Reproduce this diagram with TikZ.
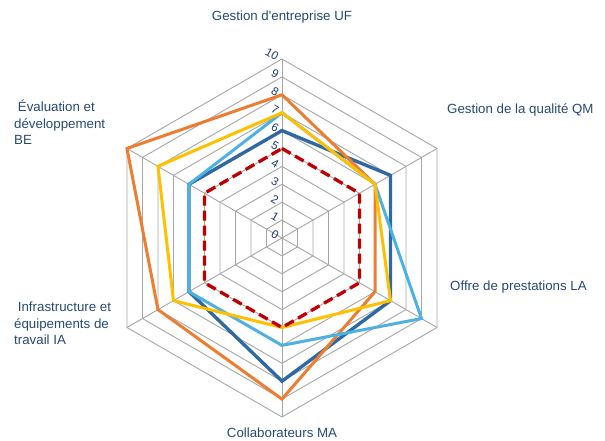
\documentclass[tikz,border=0pt]{standalone}
\usepackage{fontspec}
\setmainfont{Liberation Sans}
\definecolor{gridc}{HTML}{A6A6A6}
\definecolor{txtc}{HTML}{264A73}
\definecolor{tickc}{HTML}{1F3864}
\definecolor{sdblue}{HTML}{2E69A3}
\definecolor{sorange}{HTML}{ED7D31}
\definecolor{slblue}{HTML}{4DB1E2}
\definecolor{syellow}{HTML}{FFC000}
\definecolor{sred}{HTML}{C00000}
\tikzset{
  gridline/.style={draw=gridc, line width=0.9pt},
  series/.style={line width=3pt, line join=miter},
  axislabel/.style={text=txtc, font=\fontsize{13.3}{16.5}\selectfont, inner sep=0pt},
  ticklabel/.style={text=tickc, font=\fontsize{11.5}{11.5}\selectfont, inner sep=0pt, rotate=-30}
}
\newcommand{\U}{17.9}
\begin{document}
\begin{tikzpicture}[x=1pt,y=1pt]
\useasboundingbox (-282,-203) rectangle (323,238);
% grid hexagons
\foreach \r in {1,...,10}{
  \draw[gridline] (90:\r*\U) -- (30:\r*\U) -- (-30:\r*\U) -- (-90:\r*\U) -- (-150:\r*\U) -- (150:\r*\U) -- cycle;
}
\foreach \a in {90,30,-30,-90,-150,150}{
  \draw[gridline] (0,0) -- (\a:10*\U);
}
% series
\draw[series, sdblue, line width=3.4pt] (90:6*\U) -- (30:7*\U) -- (-30:7*\U) -- (-90:8*\U) -- (-150:6*\U) -- (150:6*\U) -- cycle;
\draw[series, sorange] (90:8*\U) -- (30:6*\U) -- (-30:6*\U) -- (-90:9*\U) -- (-150:8*\U) -- (150:10*\U) -- cycle;
\draw[series, slblue] (90:7*\U) -- (30:6*\U) -- (-30:9*\U) -- (-90:6*\U) -- (-150:6*\U) -- (150:6*\U) -- cycle;
\draw[series, syellow] (90:7*\U) -- (30:6*\U) -- (-30:7*\U) -- (-90:5*\U) -- (-150:7*\U) -- (150:8*\U) -- cycle;
\draw[series, sred, line width=3.3pt, dash pattern=on 10pt off 5pt] (90:5*\U) -- (30:5*\U) -- (-30:5*\U) -- (-90:5*\U) -- (-150:5*\U) -- (150:5*\U) -- cycle;
% tick labels
\foreach \v in {0,...,9}{
  \node[ticklabel] (t\v) at (-7,\v*\U+3) {\v};
}
\node[ticklabel] (t10) at (-10,10*\U+5) {10};
% axis labels
\node[axislabel] (uf) at (0,221) {Gestion d\textquotesingle entreprise UF};
\node[axislabel, anchor=west] (qm) at (165,128) {Gestion de la qualité QM};
\node[axislabel, anchor=west] (la) at (168,-49) {Offre de prestations LA};
\node[axislabel] (ma) at (0,-195) {Collaborateurs MA};
\node[axislabel, anchor=north west, align=left] (ia) at (-268,-64) {\ Infrastructure et\\équipements de\\travail IA};
\node[axislabel, anchor=north west, align=left] (be) at (-268,138) {\ Évaluation et\\développement\\BE};
\end{tikzpicture}
\end{document}
